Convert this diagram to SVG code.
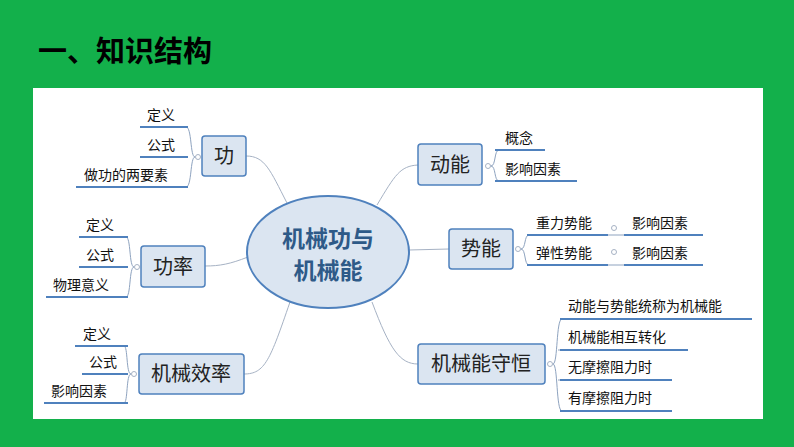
<svg xmlns="http://www.w3.org/2000/svg" width="794" height="447" viewBox="0 0 794 447">
<style>
.box{fill:#dbe5f1;stroke:#4f81bd;stroke-width:1.5}
.bt{font-family:"Noto Sans CJK SC",sans-serif;font-size:20px;fill:#222;text-anchor:middle}
.lt{font-family:"Noto Sans CJK SC",sans-serif;font-size:14px;fill:#111}
.ul{stroke:#4f81bd;stroke-width:2}
.cn{fill:none;stroke:#a6b2c4;stroke-width:1}
.br{fill:none;stroke:#8ea3bf;stroke-width:1}
.dot{fill:#fff;stroke:#a6b2c4;stroke-width:1}
</style>
<rect width="794" height="447" fill="#13b04b"/>
<text x="38" y="62" font-family="Noto Sans CJK SC,sans-serif" font-size="29" font-weight="bold" fill="#000">一、知识结构</text>
<rect x="33" y="88" width="730" height="331" fill="#fff"/>
<g id="connectors">
<path class="cn" d="M287,203 C270,170 265,156 246,156"/>
<path class="cn" d="M248,257 C230,264 220,266 205,266"/>
<path class="cn" d="M290,302 C270,360 265,374 244,374"/>
<path class="cn" d="M377,205 C395,175 400,166 418,165"/>
<path class="cn" d="M409,250 L449,249"/>
<path class="cn" d="M372,302 C390,350 400,364 418,364"/>
<path class="br" d="M195,157 C190,157 192,127 186,127 M195,157 C190,157 192,187 186,187"/>
<path class="br" d="M134,267 C129,267 131,237 126,237 M134,267 C129,267 131,297 126,297"/>
<path class="br" d="M131,374 C126,374 128,346 124,346 M131,374 C126,374 128,403 124,403"/>
<path class="br" d="M491,166 C496,166 494,150 499,150 M491,166 C496,166 494,181 499,181"/>
<path class="br" d="M521,249 C526,249 524,235 529,235 M521,249 C526,249 524,265 529,265"/>
<path class="br" d="M553,364 C558,364 556,319 562,319 M553,364 C558,364 556,411 562,411 M558,350 L562,350 M558,380 L562,380"/>
<line class="br" x1="608" y1="235" x2="624" y2="235"/>
<line class="br" x1="608" y1="265" x2="624" y2="265"/>
</g>
<g id="center">
<ellipse cx="328" cy="252" rx="81" ry="56" fill="#dbe5f1" stroke="#4f81bd" stroke-width="2"/>
<text x="328" y="247" font-family="Noto Sans CJK SC,sans-serif" font-size="23" font-weight="bold" fill="#2e5a88" text-anchor="middle">机械功与</text>
<text x="328" y="279" font-family="Noto Sans CJK SC,sans-serif" font-size="23" font-weight="bold" fill="#2e5a88" text-anchor="middle">机械能</text>
</g>
<g id="gong">
<rect class="box" x="202" y="136" width="44" height="40" rx="3"/>
<text class="bt" x="224" y="163">功</text>
<circle class="dot" cx="198" cy="157" r="2.5"/>
<text class="lt" x="147" y="120">定义</text><line class="ul" x1="140" y1="127" x2="188" y2="127"/>
<text class="lt" x="147" y="150">公式</text><line class="ul" x1="140" y1="157" x2="188" y2="157"/>
<text class="lt" x="84" y="180">做功的两要素</text><line class="ul" x1="76" y1="187" x2="188" y2="187"/>
</g>
<g id="gonglv">
<rect class="box" x="141" y="246" width="64" height="41" rx="3"/>
<text class="bt" x="173" y="274">功率</text>
<circle class="dot" cx="137" cy="267" r="2.5"/>
<text class="lt" x="86" y="230">定义</text><line class="ul" x1="79" y1="237" x2="128" y2="237"/>
<text class="lt" x="86" y="260">公式</text><line class="ul" x1="79" y1="267" x2="128" y2="267"/>
<text class="lt" x="53" y="290">物理意义</text><line class="ul" x1="46" y1="297" x2="128" y2="297"/>
</g>
<g id="xiaolv">
<rect class="box" x="139" y="354" width="105" height="40" rx="3"/>
<text class="bt" x="191" y="381">机械效率</text>
<circle class="dot" cx="134" cy="374" r="2.5"/>
<text class="lt" x="83" y="339">定义</text><line class="ul" x1="75" y1="346" x2="128" y2="346"/>
<text class="lt" x="89" y="367" font-size="12">公式</text><line class="ul" x1="82" y1="374" x2="128" y2="374"/>
<text class="lt" x="51" y="396">影响因素</text><line class="ul" x1="44" y1="403" x2="128" y2="403"/>
</g>
<g id="dongneng">
<rect class="box" x="418" y="144" width="64" height="41" rx="3"/>
<text class="bt" x="450" y="172">动能</text>
<circle class="dot" cx="488" cy="166" r="2.5"/>
<text class="lt" x="505" y="143">概念</text><line class="ul" x1="495" y1="150" x2="545" y2="150"/>
<text class="lt" x="505" y="174">影响因素</text><line class="ul" x1="495" y1="181" x2="577" y2="181"/>
</g>
<g id="shineng">
<rect class="box" x="449" y="229" width="64" height="40" rx="3"/>
<text class="bt" x="481" y="256">势能</text>
<circle class="dot" cx="518" cy="249" r="2.5"/>
<text class="lt" x="536" y="228">重力势能</text><line class="ul" x1="527" y1="235" x2="608" y2="235"/>
<circle class="dot" cx="614" cy="228" r="2.5"/>
<text class="lt" x="632" y="228">影响因素</text><line class="ul" x1="624" y1="235" x2="703" y2="235"/>
<text class="lt" x="536" y="258">弹性势能</text><line class="ul" x1="527" y1="265" x2="608" y2="265"/>
<circle class="dot" cx="614" cy="252" r="2.5"/>
<text class="lt" x="632" y="258">影响因素</text><line class="ul" x1="624" y1="265" x2="703" y2="265"/>
</g>
<g id="shouheng">
<rect class="box" x="418" y="344" width="127" height="40" rx="3"/>
<text class="bt" x="481" y="371">机械能守恒</text>
<circle class="dot" cx="550" cy="364" r="2.5"/>
<text class="lt" x="568" y="311">动能与势能统称为机械能</text><line class="ul" x1="560" y1="319" x2="752" y2="319"/>
<text class="lt" x="568" y="342">机械能相互转化</text><line class="ul" x1="560" y1="350" x2="688" y2="350"/>
<text class="lt" x="568" y="372">无摩擦阻力时</text><line class="ul" x1="560" y1="380" x2="672" y2="380"/>
<text class="lt" x="568" y="403">有摩擦阻力时</text><line class="ul" x1="560" y1="411" x2="672" y2="411"/>
</g>
</svg>
